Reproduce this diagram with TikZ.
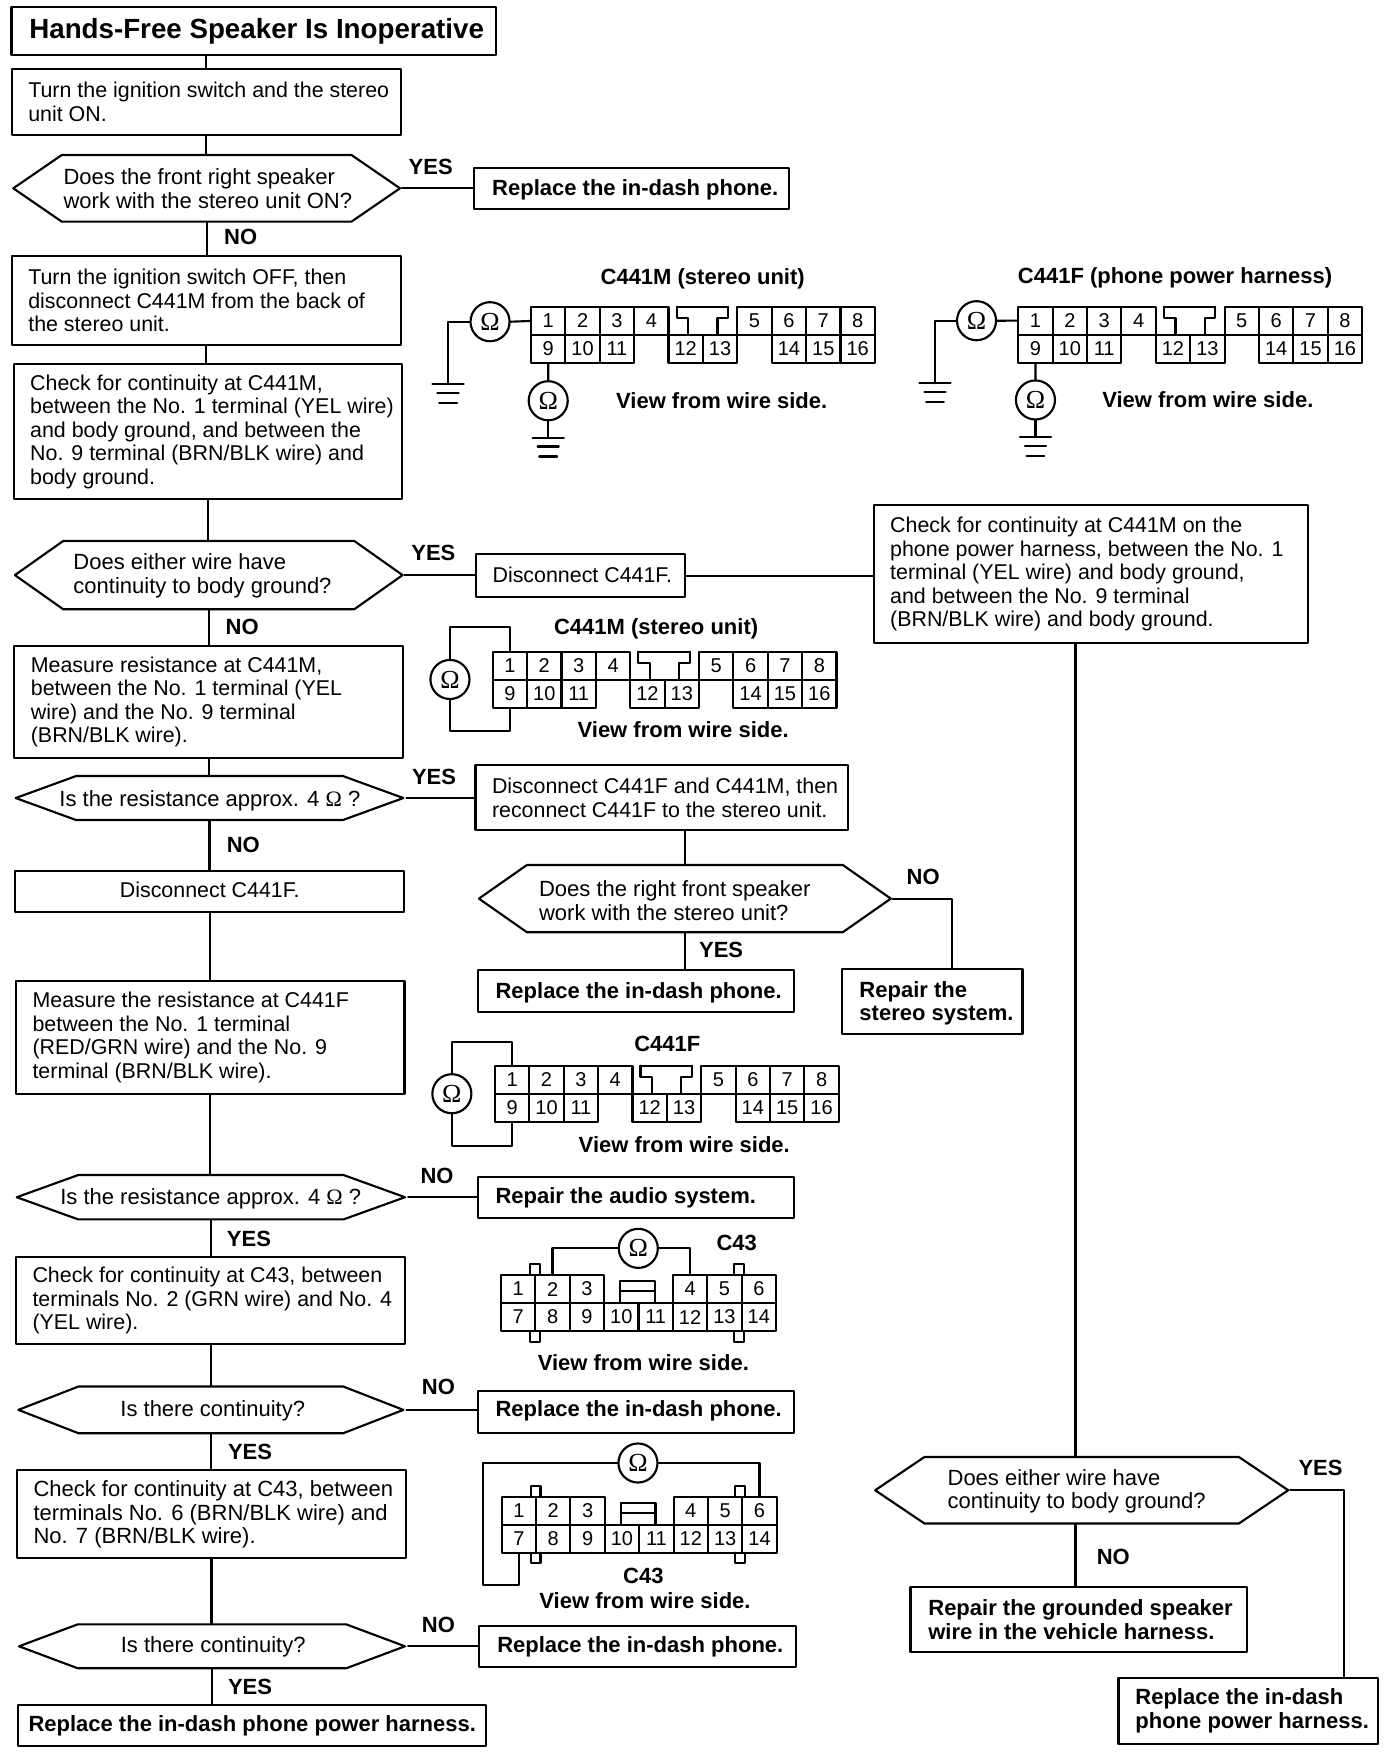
\documentclass[tikz,border=0pt]{standalone}
\usepackage{fontspec}
\setmainfont{Liberation Sans}
\newfontfamily\omfont{Liberation Serif}
\usetikzlibrary{shapes.symbols}
\newcommand{\un}{0.83721pt}
\newcommand{\bodyfont}{\fontsize{16.05}{17.6}\selectfont}
\newcommand{\hexfont}{\fontsize{16.5}{17.9}\selectfont}
\newcommand{\boldfont}{\fontsize{16.5}{17.6}\selectfont\bfseries}
\newcommand{\pinfont}{\fontsize{15}{16}\selectfont}
\tikzset{
  stepbox/.style 2 args={draw,anchor=north west,inner sep=0pt,minimum width=#1*\un,minimum height=#2*\un},
  steptext/.style={anchor=west,inner sep=0pt,align=left,xshift=14.8*\un,font=\bodyfont},
  boldtext/.style={anchor=west,inner sep=0pt,align=left,xshift=16*\un,font=\boldfont},
  hexbox/.style n args={3}{draw,shape=signal,signal to=east and west,signal pointer angle=#3,inner sep=0pt,minimum width=#1*\un,minimum height=#2*\un},
  hextext/.style={inner sep=0pt,align=left,font=\hexfont},
  answer/.style={font=\boldfont,inner sep=0pt},
  caption/.style={font=\boldfont,inner sep=0pt},
  pincell/.style={draw,inner sep=0pt,minimum width=30.8*\un,minimum height=25.1*\un,font=\pinfont},
  meter/.style={draw,circle,inner sep=0pt,minimum size=35*\un,font=\fontsize{19.5}{19.5}\omfont},
  pics/gnd/.style={code={
    \coordinate (top) at (0,0);
    \draw (-14,0)-- (14,0);
    \draw (-9.5,8)-- (9.5,8);
    \draw (-8,17)-- (8,17);
  }},
  pics/connlong/.style={code={
    \foreach \n/\cx/\cy in {1/0/0,2/1/0,3/2/0,4/3/0,5/6/0,6/7/0,7/8/0,8/9/0,9/0/1,10/1/1,11/2/1,12/4/1,13/5/1,14/7/1,15/8/1,16/9/1}
      \node [pincell] (p\n) at ({\cx*30.8+15.4},{\cy*25.1+12.55}) {\n};
    \draw (130.4,0)-- (176.6,0);
    \draw (130.4,0)-- (130.4,9.8)-- (140.8,9.8)-- (140.8,25.1);
    \draw (176.6,0)-- (176.6,9.8)-- (167,9.8)-- (167,25.1);
  }},
  pics/connshort/.style={code={
    \foreach \n/\cx/\cy in {1/0/0,2/1/0,3/2/0,4/5/0,5/6/0,6/7/0,7/0/1,8/1/1,9/2/1,10/3/1,11/4/1,12/5/1,13/6/1,14/7/1}
      \node [pincell] (p\n) at ({\cx*30.8+15.4},{\cy*25.1+12.55}) {\n};
    \draw (26,0)-- (26,-9.5)-- (34.8,-9.5)-- (34.8,0);
    \draw (209,0)-- (209,-9.5)-- (218,-9.5)-- (218,0);
    \draw (26,50.2)-- (26,59.7)-- (34.8,59.7)-- (34.8,50.2);
    \draw (209,50.2)-- (209,59.7)-- (218,59.7)-- (218,50.2);
    \draw (106.6,25.1)-- (106.6,5.3)-- (137.8,5.3)-- (137.8,25.1);
    \draw (106.6,14.5)-- (137.8,14.5);
  }}
}
\begin{document}
\begin{tikzpicture}[line cap=round,line join=round,line width=1.6pt,x=\un,y=-\un]
  \useasboundingbox (0,0) rectangle (1247,1569.5);

  \node [stepbox={434}{43}] (title) at (9.3,5.4) {};
  \node [anchor=west,inner sep=0pt,xshift=16*\un,font=\fontsize{20.8}{21}\selectfont\bfseries] (titletxt) at (title.west) {Hands-Free Speaker Is Inoperative};

  \node [stepbox={348.5}{59}] (turnon) at (9.6,60.6) {};
  \node [steptext] (turnontxt) at (turnon.west) {Turn the ignition switch and the stereo\\unit ON.};
  \node [hexbox={346.4}{59.7}{69}] (hexa) at (185.1,168.7) {};
  \node [hextext] (hexatxt) at (186.2,168.7) {Does the front right speaker\\work with the stereo unit ON?};
  \node [stepbox={282}{37.3}] (repa) at (424,149.3) {};
  \node [boldtext,yshift=-0.7pt] (repatxt) at (repa.west) {Replace the in-dash phone.};
  \node [stepbox={348.5}{80}] (turnoff) at (9.6,228.4) {};
  \node [steptext] (turnofftxt) at (turnoff.west) {Turn the ignition switch OFF, then\\disconnect C441M from the back of\\the stereo unit.};
  \node [stepbox={348}{121.5}] (checka) at (11.3,324.9) {};
  \node [steptext] (checkatxt) at (checka.west) {Check for continuity at C441M,\\between the No. 1 terminal (YEL wire)\\and body ground, and between the\\No. 9 terminal (BRN/BLK wire) and\\body ground.};
  \node [hexbox={347.3}{61.2}{70.5}] (hexb) at (187,515.2) {};
  \node [hextext] (hexbtxt) at (181.4,516.2) {Does either wire have\\continuity to body ground?};
  \node [stepbox={187.5}{38.2}] (discf) at (425.5,495.7) {};
  \node [steptext,yshift=0.9pt] (discftxt) at (discf.west) {Disconnect C441F.};
  \node [stepbox={388.8}{123}] (checkb) at (781.7,451.8) {};
  \node [steptext] (checkbtxt) at (checkb.west) {Check for continuity at C441M on the\\phone power harness, between the No. 1\\terminal (YEL wire) and body ground,\\and between the No. 9 terminal\\(BRN/BLK wire) and body ground.};
  \node [stepbox={348}{100}] (measa) at (11.9,577.8) {};
  \node [steptext] (measatxt) at (measa.west) {Measure resistance at C441M,\\between the No. 1 terminal (YEL\\wire) and the No. 9 terminal\\(BRN/BLK wire).};
  \node [hexbox={347.3}{39.4}{40}] (hexc) at (187.7,714.9) {};
  \node [hextext] (hexctxt) at (188,717) {Is the resistance approx. 4 {\omfont Ω} ?};
  \node [stepbox={334}{58.5}] (discb) at (425,684.4) {};
  \node [steptext] (discbtxt) at (discb.west) {Disconnect C441F and C441M, then\\reconnect C441F to the stereo unit.};
  \node [hexbox={369}{60.3}{70}] (hexd) at (613.5,805) {};
  \node [hextext] (hexdtxt) at (604.5,806.5) {Does the right front speaker\\work with the stereo unit?};
  \node [stepbox={283}{37}] (repb) at (427,868.3) {};
  \node [boldtext,yshift=-1.2pt] (repbtxt) at (repb.west) {Replace the in-dash phone.};
  \node [stepbox={162}{58}] (repst) at (753,867.4) {};
  \node [boldtext,yshift=-1.4pt] (repsttxt) at (repst.west) {Repair the\\stereo system.};
  \node [stepbox={348.8}{36.4}] (discc) at (12.5,779.4) {};
  \node [font=\bodyfont,inner sep=0pt,yshift=0.9pt] (discctxt) at (discc.center) {Disconnect C441F.};
  \node [stepbox={348}{101}] (measb) at (13.4,877.9) {};
  \node [steptext] (measbtxt) at (measb.west) {Measure the resistance at C441F\\between the No. 1 terminal\\(RED/GRN wire) and the No. 9\\terminal (BRN/BLK wire).};
  \node [hexbox={347.8}{39.7}{39.7}] (hexe) at (188.9,1072.5) {};
  \node [hextext] (hexetxt) at (188.8,1074) {Is the resistance approx. 4 {\omfont Ω} ?};
  \node [stepbox={283}{37}] (repc) at (427,1053.3) {};
  \node [boldtext] (repctxt) at (repc.west) {Repair the audio system.};
  \node [stepbox={348.6}{78.2}] (checkc) at (13.4,1125.2) {};
  \node [steptext] (checkctxt) at (checkc.west) {Check for continuity at C43, between\\terminals No. 2 (GRN wire) and No. 4\\(YEL wire).};
  \node [hexbox={344.9}{41.8}{42.5}] (hexf) at (188.9,1263) {};
  \node [hextext] (hexftxt) at (190.6,1263.5) {Is there continuity?};
  \node [stepbox={283}{37.5}] (repd) at (427,1245) {};
  \node [boldtext,yshift=0.7pt] (repdtxt) at (repd.west) {Replace the in-dash phone.};
  \node [stepbox={348.5}{78.8}] (checkd) at (14.3,1316.2) {};
  \node [steptext,font=\hexfont] (checkdtxt) at (checkd.west) {Check for continuity at C43, between\\terminals No. 6 (BRN/BLK wire) and\\No. 7 (BRN/BLK wire).};
  \node [hexbox={345.8}{39.4}{41}] (hexg) at (189.9,1474.8) {};
  \node [hextext] (hexgtxt) at (191,1475.2) {Is there continuity?};
  \node [stepbox={283.5}{36.7}] (repe) at (428.5,1455.7) {};
  \node [boldtext] (repetxt) at (repe.west) {Replace the in-dash phone.};
  \node [stepbox={419.5}{36.7}] (reph) at (15,1526.5) {};
  \node [anchor=west,inner sep=0pt,xshift=9.6*\un,font=\boldfont] (rephtxt) at (reph.west) {Replace the in-dash phone power harness.};
  \node [hexbox={370}{59.6}{68}] (hexh) at (969,1335) {};
  \node [hextext] (hexhtxt) at (964.5,1335.9) {Does either wire have\\continuity to body ground?};
  \node [stepbox={301.5}{57.9}] (repg) at (814.7,1420.8) {};
  \node [boldtext] (repgtxt) at (repg.west) {Repair the grounded speaker\\wire in the vehicle harness.};
  \node [stepbox={232.3}{58.4}] (repj) at (1001,1502.6) {};
  \node [boldtext,xshift=-0.7pt] (repjtxt) at (repj.west) {Replace the in-dash\\phone power harness.};

  \coordinate (trunk) at (963.5,1000);
  \coordinate (elbowd) at (853,860);
  \coordinate (elbowh) at (1204,1400);

  \draw (turnon.north)-- (turnon.north |- title.south);
  \draw (turnon.south)-- (turnon.south |- hexa.north);
  \draw (hexa.south)-- (hexa.south |- turnoff.north);
  \draw (hexa.east)-- (hexa.east -| repa.west);
  \draw (checka.north -| turnoff.south)-- (turnoff.south);
  \draw (checka.south)-- (checka.south |- hexb.north);
  \draw (hexb.east)-- (hexb.east -| discf.west);
  \draw (discf.east)-- (discf.east -| checkb.west);
  \draw (hexb.south)-- (hexb.south |- measa.north);
  \draw (measa.south)-- (measa.south |- hexc.north);
  \draw (hexc.east)-- (hexc.east -| discb.west);
  \draw (hexc.south)-- (hexc.south |- discc.north);
  \draw (discc.south)-- (discc.south |- measb.north);
  \draw (measb.south)-- (measb.south |- hexe.north);
  \draw (hexe.east)-- (hexe.east -| repc.west);
  \draw (hexe.south)-- (hexe.south |- checkc.north);
  \draw (checkc.south)-- (checkc.south |- hexf.north);
  \draw (hexf.east)-- (hexf.east -| repd.west);
  \draw (hexf.south)-- (hexf.south |- checkd.north);
  \draw (checkd.south)-- (checkd.south |- hexg.north);
  \draw (hexg.east)-- (hexg.east -| repe.west);
  \draw (hexg.south)-- (hexg.south |- reph.north);
  \draw (discb.south -| hexd.north)-- (hexd.north);
  \draw (hexd.south)-- (hexd.south |- repb.north);
  \draw (hexd.east)-| (elbowd |- repst.north);
  \draw (trunk |- checkb.south)-- (trunk |- hexh.north);
  \draw (trunk |- hexh.south)-- (trunk |- repg.north);
  \draw (hexh.east)-| (elbowh |- repj.north);

  \node [answer] (yesa) at (385.8,149.3) {YES};
  \node [answer] (noa) at (215.6,212.6) {NO};
  \node [answer] (yesb) at (388.2,495.1) {YES};
  \node [answer] (nob) at (217,561.3) {NO};
  \node [answer] (yesc) at (388.8,695.7) {YES};
  \node [answer] (noc) at (218,757) {NO};
  \node [answer] (nod) at (827,785.3) {NO};
  \node [answer] (yesd) at (646,851) {YES};
  \node [answer] (noe) at (391.5,1053.5) {NO};
  \node [answer] (yese) at (223,1109.9) {YES};
  \node [answer] (nof) at (392.7,1242.8) {NO};
  \node [answer] (yesf) at (224,1301) {YES};
  \node [answer] (nog) at (392.7,1455.7) {NO};
  \node [answer] (yesg) at (224,1510.9) {YES};
  \node [answer] (yesh) at (1183,1315.4) {YES};
  \node [answer] (noh) at (997.3,1394.5) {NO};

  \node [caption] (capa) at (629.5,250) {C441M (stereo unit)};
  \node [caption] (capb) at (1052.6,249) {C441F (phone power harness)};
  \node [caption] (viewa) at (646.5,359) {View from wire side.};
  \node [caption] (viewb) at (1082,358.3) {View from wire side.};
  \node [caption] (capc) at (587.8,563.5) {C441M (stereo unit)};
  \node [caption] (viewc) at (612,654) {View from wire side.};
  \node [caption] (capd) at (597.8,935) {C441F};
  \node [caption] (viewd) at (613,1025.7) {View from wire side.};
  \node [caption] (cape) at (660,1113.2) {C43};
  \node [caption] (viewe) at (576.3,1220.7) {View from wire side.};
  \node [caption] (capf) at (576.3,1411.8) {C43};
  \node [caption] (viewf) at (577.8,1434.2) {View from wire side.};

  \pic (cna) at (475.7,275) {connlong};
  \node [meter] (oma) at (439,288.2) {Ω};
  \node [meter] (omb) at (491.1,359) {Ω};
  \pic (ga) at (401.4,344) {gnd};
  \pic (gb) at (491.1,392) {gnd};
  \draw (oma.east)-- (cnap1.west);
  \draw (oma.west)-| (gatop);
  \draw (cnap9.south)-- (omb.north);
  \draw (omb.south)-- (gbtop);

  \pic (cnb) at (912.2,274.7) {connlong};
  \node [meter] (omc) at (874.8,287.3) {Ω};
  \node [meter] (omd) at (927.6,358.3) {Ω};
  \pic (gc) at (837.6,343.4) {gnd};
  \pic (gd) at (927.6,391.2) {gnd};
  \draw (omc.east)-- (cnbp1.west);
  \draw (omc.west)-| (gctop);
  \draw (cnbp9.south)-- (omd.north);
  \draw (omd.south)-- (gdtop);

  \pic (cnc) at (441.4,583.8) {connlong};
  \node [meter] (ome) at (403.1,608.7) {Ω};
  \draw (ome.north)-- (ome.north |- 0,562)-| (cncp1.north);
  \draw (ome.south)-- (ome.south |- 0,654.9)-| (cncp9.south);

  \pic (cnd) at (443.4,954.7) {connlong};
  \node [meter] (omf) at (404.8,979.8) {Ω};
  \draw (omf.north)-- (omf.north |- 0,933.8)-| (cndp1.north);
  \draw (omf.south)-- (omf.south |- 0,1026.6)-| (cndp9.south);

  \pic (cne) at (448.8,1142.2) {connshort};
  \node [meter] (omg) at (571.8,1118.3) {Ω};
  \draw (omg.west)-| (cnep2.north);
  \draw (omg.east)-| (cnep4.north);

  \pic (cnf) at (449.4,1340.8) {connshort};
  \node [meter] (omh) at (571.5,1310.6) {Ω};
  \draw (omh.west)-- (432.4,1310.6)-- (432.4,1419.9)-| (cnfp7.south);
  \draw (omh.east)-| (cnfp6.north);
\end{tikzpicture}
\end{document}
